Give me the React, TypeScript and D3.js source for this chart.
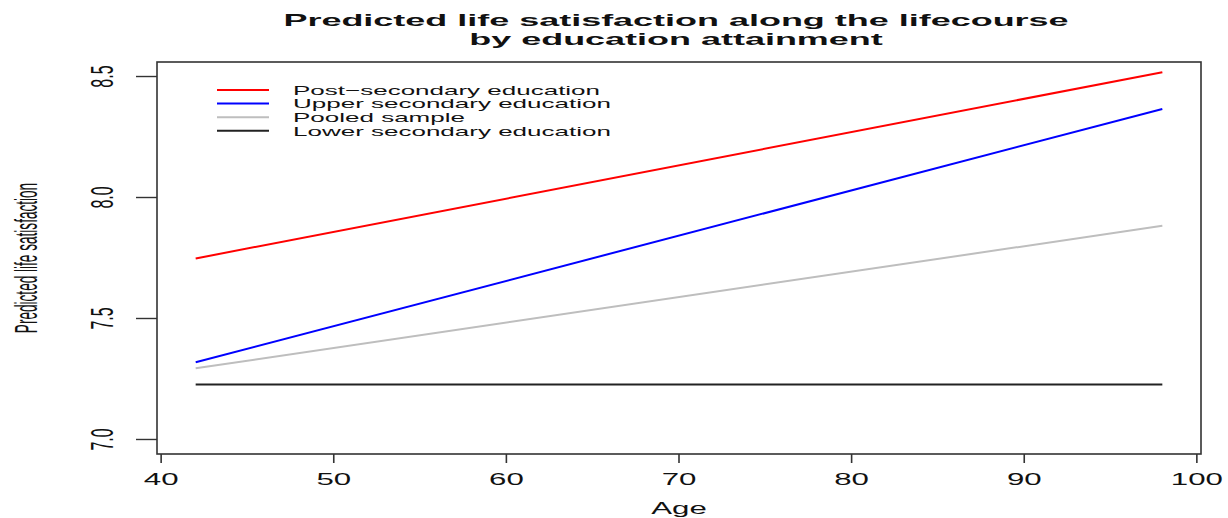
import React from "react";
import * as d3 from "d3";

// Predicted life satisfaction by age, one straight line per education group
const ages = [42, 98];
const postSecondary = [7.748, 8.518];
const upperSecondary = [7.319, 8.366];
const pooledSample = [7.294, 7.883];
const lowerSecondary = [7.227, 7.227];

const seriesNames = [
  "Post\u2212secondary education",
  "Upper secondary education",
  "Pooled sample",
  "Lower secondary education",
];
const seriesColors = ["#ff0000", "#0000ff", "#bebebe", "#222222"];
const seriesValues = [postSecondary, upperSecondary, pooledSample, lowerSecondary];

const xTicks = [40, 50, 60, 70, 80, 90, 100];
const yTicks = [7.0, 7.5, 8.0, 8.5];
const yLimits = [7, 8.5];

const W = 1228;
const H = 518;
const plot = { left: 157, right: 1201, top: 62, bottom: 454 };

// horizontal stretch applied to glyphs
const SX = 1.95;
const SX_LEGEND = 2.0;
const SX_TITLE = 2.18;
const SX_YLAB = 2.35;

const FONT = "'Liberation Sans', Arial, Helvetica, sans-serif";

export default function App() {
  // R-style 4% padding around the data / limits
  const xExt = d3.extent(ages) as [number, number];
  const xPad = (xExt[1] - xExt[0]) * 0.04;
  const yPad = (yLimits[1] - yLimits[0]) * 0.04;

  const x = d3
    .scaleLinear()
    .domain([xExt[0] - xPad, xExt[1] + xPad])
    .range([plot.left, plot.right]);
  const y = d3
    .scaleLinear()
    .domain([yLimits[0] - yPad, yLimits[1] + yPad])
    .range([plot.bottom, plot.top]);

  const line = d3
    .line<[number, number]>()
    .x((d) => x(d[0]))
    .y((d) => y(d[1]));

  const cx = (plot.left + plot.right) / 2;
  const cy = (plot.top + plot.bottom) / 2;

  const legendX0 = 217;
  const legendX1 = 269;
  const legendTextX = 293;
  const legendY0 = 90;
  const legendStep = 13.6;

  return (
    <svg
      width={W}
      height={H}
      style={{ position: "absolute", left: 0, top: 0, background: "#fff" }}
      fontFamily={FONT}
    >
      {/* title */}
      <g fontWeight="bold" fontSize={16.5} fill="#111" textAnchor="middle">
        <text transform={`translate(${cx - 3},26) scale(${SX_TITLE},1)`}>
          Predicted life satisfaction along the lifecourse
        </text>
        <text transform={`translate(${cx - 3},45) scale(${SX_TITLE},1)`}>
          by education attainment
        </text>
      </g>

      {/* data lines */}
      {seriesValues.map((vals, i) => (
        <path
          key={seriesNames[i]}
          d={line(ages.map((a, j) => [a, vals[j]] as [number, number])) || ""}
          fill="none"
          stroke={seriesColors[i]}
          strokeWidth={2}
        />
      ))}

      {/* plot box */}
      <rect
        x={plot.left}
        y={plot.top}
        width={plot.right - plot.left}
        height={plot.bottom - plot.top}
        fill="none"
        stroke="#333"
        strokeWidth={1.6}
      />

      {/* x axis */}
      <g>
        {xTicks.map((t) => (
          <g key={t}>
            <line
              x1={x(t)}
              x2={x(t)}
              y1={plot.bottom}
              y2={plot.bottom + 9}
              stroke="#333"
              strokeWidth={1.6}
            />
            <text
              transform={`translate(${x(t)},485) scale(${SX},1)`}
              textAnchor="middle"
              fontSize={16}
              fill="#111"
            >
              {t}
            </text>
          </g>
        ))}
        <text
          transform={`translate(${cx},514) scale(${SX},1)`}
          textAnchor="middle"
          fontSize={16}
          fill="#111"
        >
          Age
        </text>
      </g>

      {/* y axis */}
      <g>
        {yTicks.map((t) => (
          <g key={t}>
            <line
              x1={plot.left - 21}
              x2={plot.left}
              y1={y(t)}
              y2={y(t)}
              stroke="#333"
              strokeWidth={1.4}
            />
            <text
              transform={`translate(113,${y(t)}) scale(${SX},1) rotate(-90)`}
              textAnchor="middle"
              fontSize={16}
              fill="#111"
            >
              {d3.format(".1f")(t)}
            </text>
          </g>
        ))}
        <text
          transform={`translate(37,${cy}) scale(${SX_YLAB},1) rotate(-90)`}
          textAnchor="middle"
          fontSize={13.6}
          fill="#111"
        >
          Predicted life satisfaction
        </text>
      </g>

      {/* legend */}
      <g>
        {seriesNames.map((name, i) => {
          const ly = legendY0 + i * legendStep;
          return (
            <g key={name}>
              <line
                x1={legendX0}
                x2={legendX1}
                y1={ly}
                y2={ly}
                stroke={seriesColors[i]}
                strokeWidth={2}
              />
              <text
                transform={`translate(${legendTextX},${ly + 4.7}) scale(${SX_LEGEND},1)`}
                fontSize={13}
                fill="#111"
              >
                {name}
              </text>
            </g>
          );
        })}
      </g>
    </svg>
  );
}
